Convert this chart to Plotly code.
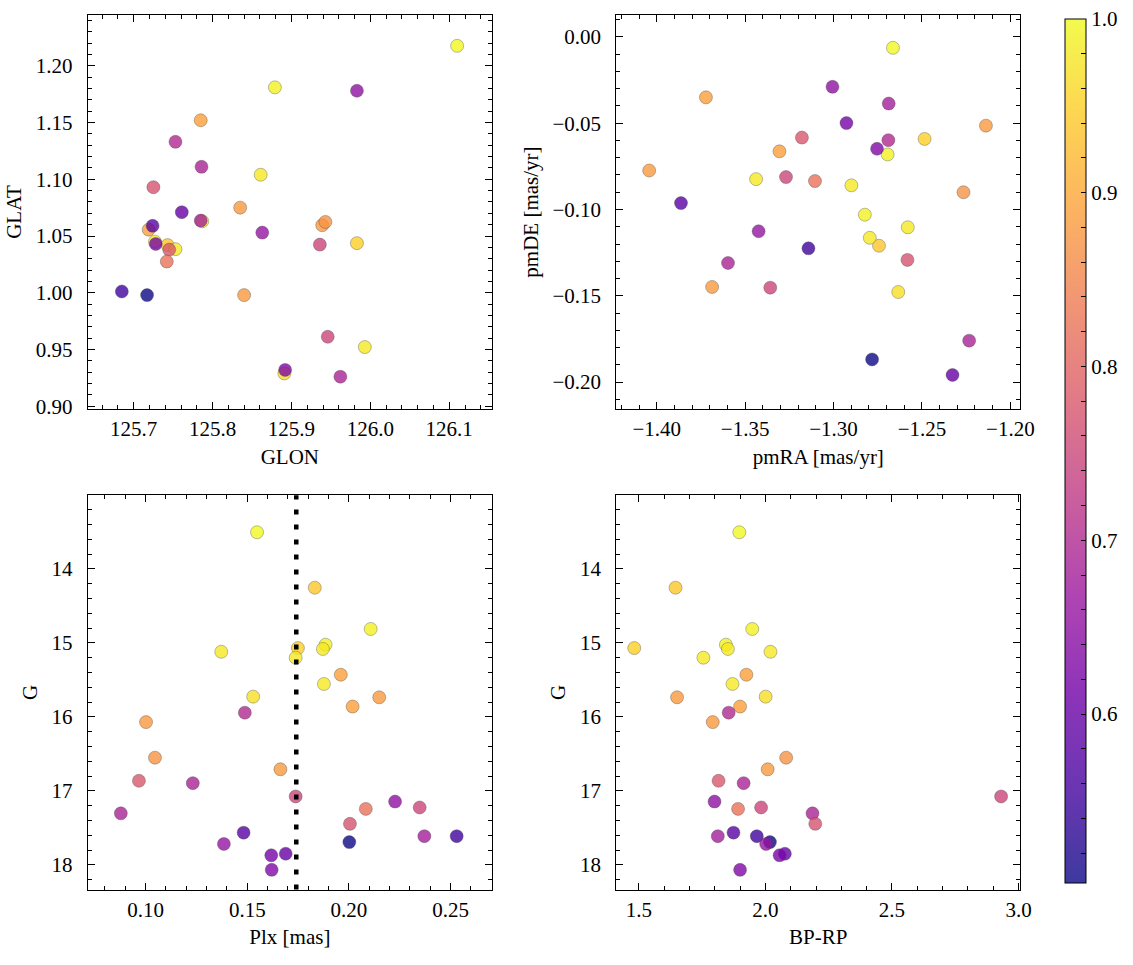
import plotly.graph_objects as go

# ---- data (one entry per star) ----
glon = [126.110, 125.743, 125.879, 125.861, 125.983, 125.787, 125.727, 125.753, 125.785, 125.993,
        125.891, 125.835, 125.719, 125.753, 125.939, 125.943, 125.840, 125.745, 125.786, 125.936,
        125.983, 125.946, 125.742, 125.962, 125.725, 125.724, 125.785, 125.685, 125.717, 125.863,
        125.761, 125.728, 125.892]
glat = [1.2176, 1.042, 1.181, 1.104, 1.0437, 1.0630, 1.045, 1.0384, 1.152, 0.9521,
        0.9289, 1.075, 1.0556, 1.133, 1.0595, 1.0624, 0.9979, 1.038, 1.111, 1.0424,
        1.178, 0.9612, 1.0275, 0.926, 1.093, 1.059, 1.0636, 1.0011, 0.9979, 1.053,
        1.071, 1.043, 0.932]
pmra = [-1.2664, -1.2743, -1.2694, -1.3438, -1.2485, -1.2899, -1.2823, -1.2580, -1.3722, -1.2795,
        -1.2634, -1.2138, -1.3306, -1.2690, -1.4043, -1.2265, -1.3687, -1.3179, -1.3597, -1.3269,
        -1.3006, -1.3358, -1.3105, -1.2233, -1.2582, -1.3863, -1.2688, -1.3142, -1.2782, -1.3424,
        -1.2327, -1.2927, -1.2754]
pmde = [-0.0063, -0.1210, -0.0681, -0.0824, -0.0591, -0.0860, -0.1030, -0.1103, -0.0350, -0.1164,
        -0.1478, -0.0514, -0.0663, -0.0598, -0.0774, -0.0900, -0.1449, -0.0583, -0.1310, -0.0812,
        -0.0289, -0.1453, -0.0835, -0.1760, -0.1292, -0.0963, -0.0386, -0.1225, -0.1869, -0.1126,
        -0.1959, -0.0499, -0.0648]
plx = [0.1548, 0.1832, 0.2107, 0.1372, 0.1749, 0.1738, 0.1885, 0.1872, 0.1960, 0.1877,
       0.1529, 0.2149, 0.2018, 0.1488, 0.1002, 0.1046, 0.1663, 0.0967, 0.1232, 0.1738,
       0.2227, 0.2348, 0.2083, 0.0878, 0.2005, 0.1482, 0.2371, 0.2530, 0.2002, 0.1385,
       0.1689, 0.1618, 0.1620]
gmag = [13.505, 14.254, 14.812, 15.120, 15.070, 15.200, 15.024, 15.082, 15.430, 15.555,
        15.726, 15.735, 15.860, 15.943, 16.070, 16.551, 16.708, 16.863, 16.895, 17.075,
        17.144, 17.224, 17.243, 17.303, 17.445, 17.564, 17.612, 17.612, 17.692, 17.717,
        17.849, 17.870, 18.067]
bprp = [1.897, 1.645, 1.948, 2.020, 1.482, 1.755, 1.844, 1.852, 1.925, 1.870,
        2.001, 1.651, 1.900, 1.855, 1.792, 2.082, 2.009, 1.815, 1.914, 2.931,
        1.799, 1.983, 1.892, 2.186, 2.197, 1.874, 1.812, 1.966, 2.018, 2.003,
        2.077, 2.056, 1.900]
prob = [1.00, 0.94, 0.99, 0.98, 0.95, 0.98, 0.99, 0.98, 0.89, 0.98,
        0.97, 0.88, 0.89, 0.70, 0.88, 0.87, 0.88, 0.78, 0.69, 0.75,
        0.65, 0.75, 0.82, 0.69, 0.77, 0.58, 0.68, 0.55, 0.503, 0.66,
        0.60, 0.62, 0.63]
plx_line = 0.1741
cb_ticks = [0.6, 0.7, 0.8, 0.9, 1.0]

# plasma colorscale with alpha 0.8 baked in
plasma_hex = ['#0d0887', '#46039f', '#7201a8', '#9c179e', '#bd3786',
              '#d8576b', '#ed7953', '#fb9f3a', '#fdca26', '#f0f921']
def rgba(h, a=0.8):
    h = h.lstrip('#')
    return f"rgba({int(h[0:2],16)},{int(h[2:4],16)},{int(h[4:6],16)},{a})"
cscale = [[i / (len(plasma_hex) - 1), rgba(c)] for i, c in enumerate(plasma_hex)]

FONT = "Liberation Serif"
FS = 21
cmin, cmax = 0.503, 1.0

W, H = 1133, 965
def xd(a, b):
    return [a / W, b / W]
def yd(top, bot):
    return [1 - bot / H, 1 - top / H]

fig = go.Figure()

def add(x, y, xa, ya, show=False):
    marker = dict(size=13, color=prob, colorscale=cscale, cmin=cmin, cmax=cmax,
                  line=dict(color='rgba(70,70,70,0.6)', width=0.6), opacity=1)
    if show:
        cb_vals = [round(0.52 + 0.02 * i, 2) for i in range(25)]
        cb_text = [f"{v:.1f}" if any(abs(v - t) < 1e-6 for t in cb_ticks) else "" for v in cb_vals]
        marker.update(showscale=True, colorbar=dict(
            x=1078 / W, xanchor='left', xpad=0, ypad=0,
            y=1 - (16 + 882 + 12) / 2 / H, yanchor='middle',
            len=(882 - 16 + 6) / H, lenmode='fraction',
            thickness=21, thicknessmode='pixels',
            outlinewidth=1, outlinecolor='black',
            ticks='inside', ticklen=5, tickcolor='black', tickwidth=1,
            tickvals=cb_vals, ticktext=cb_text,
            tickfont=dict(family=FONT, size=FS, color='black')))
    else:
        marker.update(showscale=False)
    fig.add_trace(go.Scatter(x=x, y=y, mode='markers', marker=marker,
                             xaxis=xa, yaxis=ya, showlegend=False, hoverinfo='skip'))

add(glon, glat, 'x', 'y', show=True)
add(pmra, pmde, 'x2', 'y2')
add(plx, gmag, 'x3', 'y3')
add(bprp, gmag, 'x4', 'y4')

def axis(domain, rng, dtick, minor, fmt, title, anchor, standoff, lso):
    return dict(domain=domain, range=rng, dtick=dtick, tick0=0, tickformat=fmt,
                showline=True, linecolor='black', linewidth=1.2, mirror='ticks',
                ticks='inside', ticklen=7, tickwidth=1, tickcolor='black',
                minor=dict(dtick=minor, ticks='inside', ticklen=4, tickwidth=1, tickcolor='black'),
                showgrid=False, zeroline=False, anchor=anchor,
                ticklabelstandoff=lso,
                tickfont=dict(family=FONT, size=FS, color='black'),
                title=dict(text=title, font=dict(family=FONT, size=FS, color='black'), standoff=standoff))

fig.update_layout(
    width=W, height=H, margin=dict(l=0, r=0, t=0, b=0),
    paper_bgcolor='white', plot_bgcolor='white',
    xaxis=axis(xd(89, 498), [125.642, 126.154], 0.1, 0.02, '.1f', 'GLON', 'y', 8, 1),
    yaxis=axis(yd(15, 413), [0.8974, 1.2449], 0.05, 0.01, '.2f', 'GLAT', 'x', 8, 10),
    xaxis2=axis(xd(624, 1033), [-1.4229, -1.1944], 0.05, 0.01, '.2f', 'pmRA [mas/yr]', 'y2', 8, 1),
    yaxis2=axis(yd(15, 413), [-0.2157, 0.0128], 0.05, 0.01, '.2f', 'pmDE [mas/yr]', 'x2', 8, 10),
    xaxis3=axis(xd(89, 498), [0.0716, 0.2703], 0.05, 0.01, '.2f', 'Plx [mas]', 'y3', 8, 1),
    yaxis3=axis(yd(500, 898), [18.334, 13.006], 1, 0.2, 'd', 'G', 'x3', 8, 10),
    xaxis4=axis(xd(624, 1033), [1.411, 3.0066], 0.5, 0.1, '.1f', 'BP-RP', 'y4', 8, 1),
    yaxis4=axis(yd(500, 898), [18.334, 13.006], 1, 0.2, 'd', 'G', 'x4', 8, 10),
)

fig.add_shape(type='line', xref='x3', yref='y3 domain', x0=plx_line, x1=plx_line, y0=0, y1=1,
              line=dict(color='black', width=4.5, dash='5px,10px'), layer='above')

fig.write_html("out.html", config={'displayModeBar': False},
               post_script="document.body.style.margin='0';")
